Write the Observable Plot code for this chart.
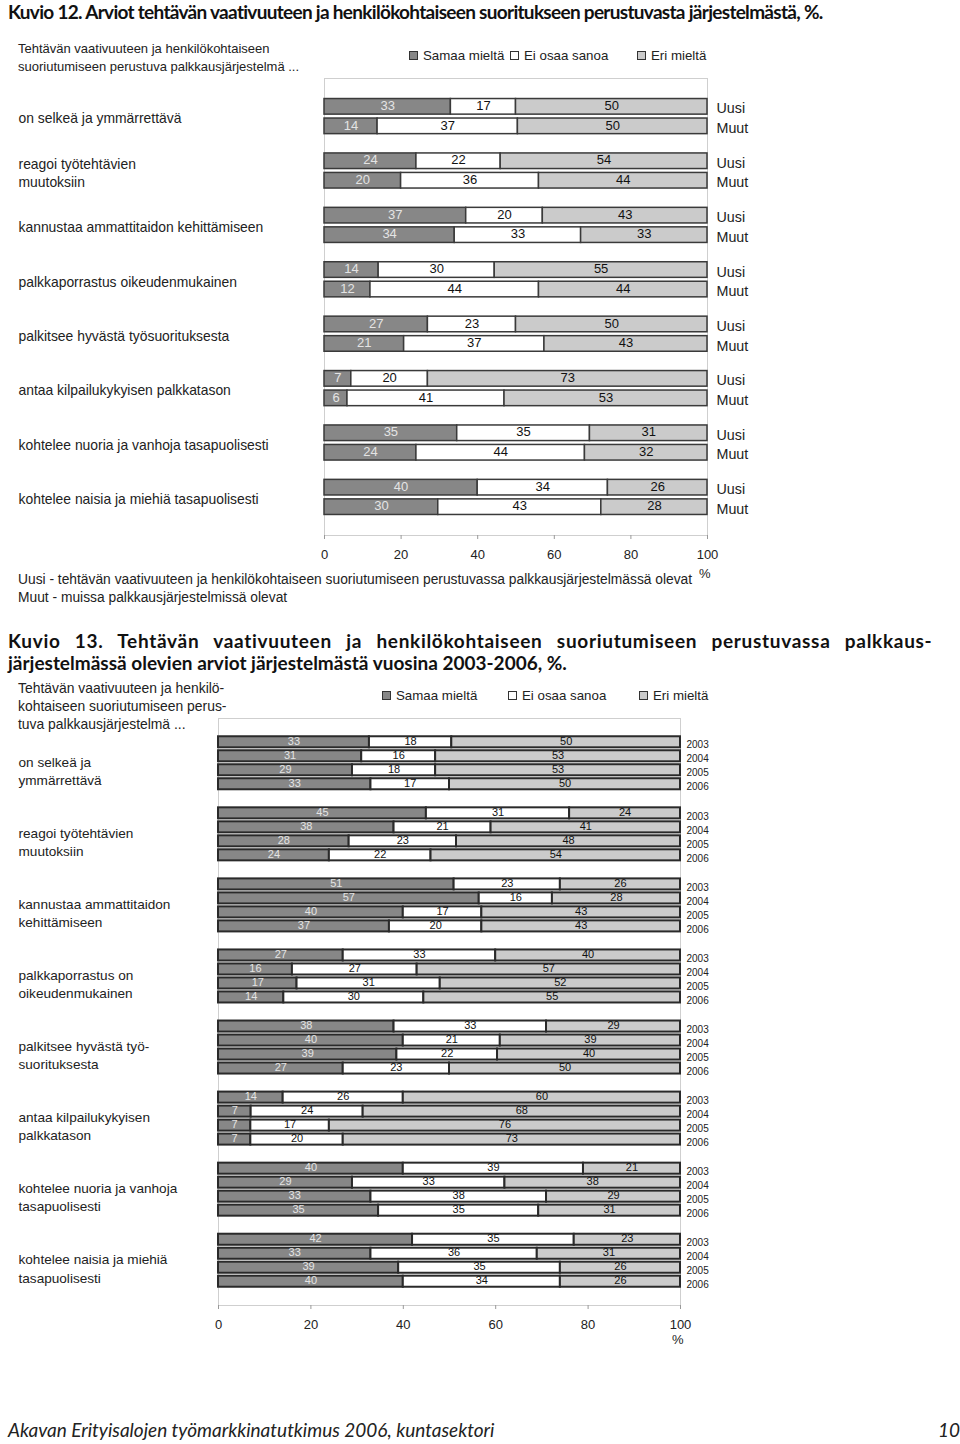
<!DOCTYPE html>
<html><head><meta charset="utf-8">
<script src="https://cdn.jsdelivr.net/npm/d3@7"></script>
<script src="https://cdn.jsdelivr.net/npm/@observablehq/plot@0.6"></script>
<style>
html,body{margin:0;padding:0;background:#fff;overflow:hidden}
#page{position:relative;width:960px;height:1444px;font-family:"Liberation Sans",Arial,sans-serif;color:#222;background:#fff}
.abs{position:absolute;white-space:nowrap}
.title{font-family:Lato,"Open Sans",sans-serif;font-weight:700;font-size:19px;color:#111;line-height:22px}
.txt{font-size:13px;line-height:18px}
.sw{display:inline-block;width:7px;height:7px;border:1.5px solid #333;margin-right:5px;vertical-align:0px}
.plotbox{position:absolute;left:0}
.plotbox svg{display:block}
</style></head>
<body><div id="page">
<div class="abs title" style="left:8px;top:1px;letter-spacing:-0.7px">Kuvio 12. Arviot tehtävän vaativuuteen ja henkilökohtaiseen suoritukseen perustuvasta järjestelmästä, %.</div>
<div class="abs txt" style="left:18px;top:40px">Tehtävän vaativuuteen ja henkilökohtaiseen<br>suoriutumiseen perustuva palkkausjärjestelmä ...</div>
<div id="legend1"></div>
<div class="abs txt" style="left:18px;top:571px;font-size:13.8px">Uusi - tehtävän vaativuuteen ja henkilökohtaiseen suoriutumiseen perustuvassa palkkausjärjestelmässä olevat<br>Muut - muissa palkkausjärjestelmissä olevat</div>
<div class="abs title" style="left:8px;top:630px;letter-spacing:0.7px;word-spacing:9px">Kuvio 13. Tehtävän vaativuuteen ja henkilökohtaiseen suoriutumiseen perustuvassa palkkaus-</div>
<div class="abs title" style="left:8px;top:652px">järjestelmässä olevien arviot järjestelmästä vuosina 2003-2006, %.</div>
<div class="abs txt" style="left:18px;top:679px;font-size:13.9px">Tehtävän vaativuuteen ja henkilö-<br>kohtaiseen suoriutumiseen perus-<br>tuva palkkausjärjestelmä ...</div>
<div id="legend2"></div>
<div class="abs" style="left:8px;top:1418px;font-family:Lato,'Open Sans',sans-serif;font-style:italic;font-size:19px;line-height:24px;color:#222">Akavan Erityisalojen työmarkkinatutkimus 2006, kuntasektori</div>
<div class="abs" style="left:938px;top:1418px;font-family:Lato,'Open Sans',sans-serif;font-style:italic;font-size:19px;line-height:24px;color:#222">10</div>
<div class="plotbox" id="c1base" style="top:70px"></div>
<div class="plotbox" id="c1" style="top:70px"></div>
<div class="plotbox" id="c2base" style="top:710px"></div>
<div class="plotbox" id="c2" style="top:710px"></div>
</div>
<script>
// ---------- shared ----------
const respKeys = ["Samaa mieltä", "Ei osaa sanoa", "Eri mieltä"];
const respFills = ["#878787", "#ffffff", "#cbcbcb"];
const xTicks = [0, 20, 40, 60, 80, 100];

// ---------- Kuvio 12 ----------
const cats1 = [
  "on selkeä ja ymmärrettävä",
  "reagoi työtehtävien\nmuutoksiin",
  "kannustaa ammattitaidon kehittämiseen",
  "palkkaporrastus oikeudenmukainen",
  "palkitsee hyvästä työsuorituksesta",
  "antaa kilpailukykyisen palkkatason",
  "kohtelee nuoria ja vanhoja tasapuolisesti",
  "kohtelee naisia ja miehiä tasapuolisesti"
];
const series1 = ["Uusi", "Muut"];
const uusiSamaa = [33, 24, 37, 14, 27, 7, 35, 40];
const uusiEos   = [17, 22, 20, 30, 23, 20, 35, 34];
const uusiEri   = [50, 54, 43, 55, 50, 73, 31, 26];
const muutSamaa = [14, 20, 34, 12, 21, 6, 24, 30];
const muutEos   = [37, 36, 33, 44, 37, 41, 44, 43];
const muutEri   = [50, 44, 33, 44, 43, 53, 32, 28];

// ---------- Kuvio 13 ----------
const cats2 = [
  "on selkeä ja\nymmärrettävä",
  "reagoi työtehtävien\nmuutoksiin",
  "kannustaa ammattitaidon\nkehittämiseen",
  "palkkaporrastus on\noikeudenmukainen",
  "palkitsee hyvästä työ-\nsuorituksesta",
  "antaa kilpailukykyisen\npalkkatason",
  "kohtelee nuoria ja vanhoja\ntasapuolisesti",
  "kohtelee naisia ja miehiä\ntasapuolisesti"
];
const years2 = ["2003", "2004", "2005", "2006"];
const samaa2 = [[33,31,29,33],[45,38,28,24],[51,57,40,37],[27,16,17,14],[38,40,39,27],[14,7,7,7],[40,29,33,35],[42,33,39,40]];
const eos2   = [[18,16,18,17],[31,21,23,22],[23,16,17,20],[33,27,31,30],[33,21,22,23],[26,24,17,20],[39,33,38,35],[35,36,35,34]];
const eri2   = [[50,53,53,50],[24,41,48,54],[26,28,43,43],[40,57,52,55],[29,39,40,50],[60,68,76,73],[21,38,29,31],[23,31,26,26]];

// ---------- build tables ----------
const rows1 = [];
cats1.forEach((c, i) => {
  [["Uusi", [uusiSamaa, uusiEos, uusiEri]], ["Muut", [muutSamaa, muutEos, muutEri]]].forEach(([s, arrs]) => {
    arrs.forEach((a, k) => rows1.push({cat: c, ser: s, resp: respKeys[k], value: a[i]}));
  });
});
const rows2 = [];
cats2.forEach((c, i) => {
  years2.forEach((yr, j) => {
    [samaa2, eos2, eri2].forEach((a, k) => rows2.push({cat: c, ser: yr, resp: respKeys[k], value: a[i][j]}));
  });
});

function legend(el, top, positions, fs) {
  const d = document.getElementById(el);
  respKeys.forEach((k, i) => {
    const s = document.createElement("div");
    s.className = "abs txt";
    s.style.left = positions[i] + "px";
    s.style.top = top + "px";
    s.style.fontSize = fs + "px";
    s.innerHTML = `<span class="sw" style="background:${respFills[i]}"></span>${k}`;
    d.appendChild(s);
  });
}
legend("legend1", 47, [409, 510, 637], 13.3);
legend("legend2", 687, [382, 508, 639], 13.3);

function basePlot(cfg) {
  return Plot.plot({
    width: 960, height: cfg.height,
    marginLeft: cfg.ml, marginRight: cfg.mr, marginTop: cfg.mt, marginBottom: cfg.mb,
    style: {background: "transparent", fontFamily: "Liberation Sans, Arial, sans-serif", fontSize: "13px", color: "#222"},
    x: {domain: [0, 1], axis: null},
    marks: [
      Plot.frame({stroke: "#cfcfcf"}),
      Plot.axisX({ticks: xTicks.map(t => t / 100), tickFormat: d => Math.round(d * 100), tickSize: 4, tickPadding: 10, stroke: "#999", fill: "#222", fontSize: 13}),
      Plot.text(["%"], {frameAnchor: "bottom-right", text: d => d, dx: 3, dy: cfg.pctDy, fontSize: 13, fill: "#222"})
    ]
  });
}

function barPlot(cfg) {
  const rows = cfg.rows;
  return Plot.plot({
    width: 960, height: cfg.height,
    marginLeft: cfg.ml, marginRight: cfg.mr, marginTop: cfg.mt, marginBottom: cfg.mb,
    style: {background: "transparent", fontFamily: "Liberation Sans, Arial, sans-serif", fontSize: "13px", color: "#222", overflow: "visible"},
    facet: {data: rows, y: "cat", marginTop: 0, marginBottom: 0, marginLeft: 0, marginRight: 0},
    fy: {domain: cfg.cats, axis: null, label: null, paddingInner: 0, paddingOuter: cfg.fyPad, round: false},
    y: {domain: cfg.series, axis: null, label: null, paddingInner: cfg.yPadIn, paddingOuter: cfg.yPadOut, round: false},
    x: {domain: [0, 1], axis: null},
    color: {domain: respKeys, range: respFills},
    marks: [
      Plot.barX(rows, Plot.stackX({offset: "normalize", x: "value", y: "ser", fill: "resp", stroke: cfg.stroke, strokeWidth: cfg.sw})),
      Plot.text(rows, Plot.filter(d => d.resp === respKeys[0],
        Plot.stackX({offset: "normalize", x: "value", y: "ser", z: "resp", text: "value", fill: "#e4e4e4", fontSize: cfg.vfs, dy: -1}))),
      Plot.text(rows, Plot.filter(d => d.resp !== respKeys[0],
        Plot.stackX({offset: "normalize", x: "value", y: "ser", z: "resp", text: "value", fill: "#111", fontSize: cfg.vfs, dy: -1}))),
      Plot.text(rows, {filter: d => d.resp === respKeys[0], y: "ser", text: "ser", frameAnchor: "right", textAnchor: "start", dx: cfg.sdx, dy: cfg.sdy, fontSize: cfg.sfs, fill: "#222"}),
      Plot.text(rows, {filter: d => d.resp === respKeys[0] && d.ser === cfg.series[0], text: "cat", frameAnchor: "left", textAnchor: "start", dx: cfg.cdx, dy: cfg.cdy, fontSize: cfg.cfs, lineHeight: cfg.clh, fill: "#222"})
    ]
  });
}

const c1 = {height: 515, ml: 324, mr: 253, mt: 8, mb: 50, pctDy: 42};
document.getElementById("c1base").appendChild(basePlot(c1));
document.getElementById("c1").appendChild(barPlot({...c1, rows: rows1, cats: cats1, series: series1,
  fyPad: 0.2, yPadIn: 0.2, yPadOut: 0.495, stroke: "#3a3a3a", sw: 1.5, vfs: 13,
  sdx: 9, sdy: 2, sfs: 14.3, cdx: -306, cdy: 1, cfs: 13.9, clh: 1.3}));

const c2 = {height: 645, ml: 218, mr: 280, mt: 8, mb: 50, pctDy: 38};
document.getElementById("c2base").appendChild(basePlot(c2));
document.getElementById("c2").appendChild(barPlot({...c2, rows: rows2, cats: cats2, series: years2,
  fyPad: 0.13, yPadIn: 0.21, yPadOut: 0.645, stroke: "#2a2a2a", sw: 2, vfs: 11,
  sdx: 6, sdy: 3, sfs: 10, cdx: -200, cdy: 7, cfs: 13.6, clh: 1.33}));
</script>
</body></html>
